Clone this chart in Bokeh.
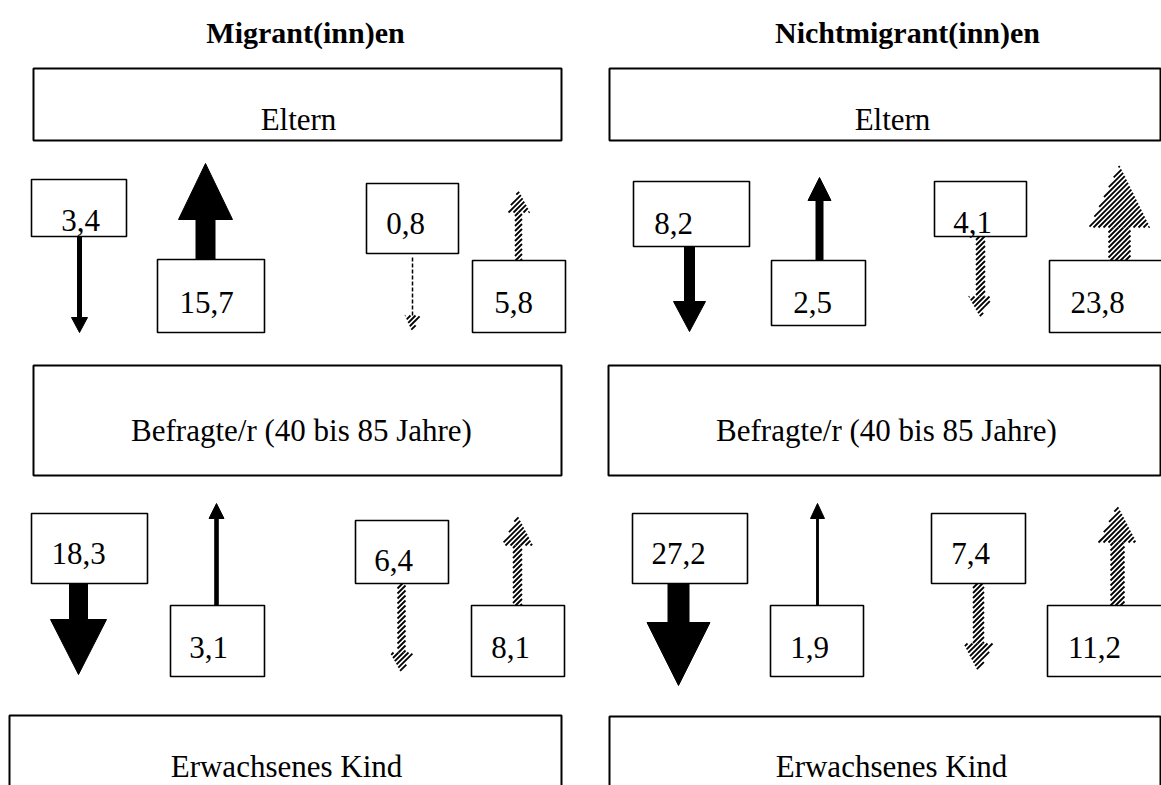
from bokeh.plotting import figure
from bokeh.models import ColumnDataSource, Range1d
from bokeh.core.properties import value
from bokeh.embed import file_html
from bokeh.resources import INLINE

# ---------------- data ----------------
groups = ["Migrant(inn)en", "Nichtmigrant(inn)en"]
nodes = ["Eltern", "Befragte/r (40 bis 85 Jahre)", "Erwachsenes Kind"]

# percentages, order: [Migrant(inn)en, Nichtmigrant(inn)en]
parents_to_resp_solid = [3.4, 8.2]
resp_to_parents_solid = [15.7, 2.5]
parents_to_resp_hatched = [0.8, 4.1]
resp_to_parents_hatched = [5.8, 23.8]
resp_to_child_solid = [18.3, 27.2]
child_to_resp_solid = [3.1, 1.9]
resp_to_child_hatched = [6.4, 7.4]
child_to_resp_hatched = [8.1, 11.2]

flows = [
    ("p2r_s", parents_to_resp_solid, "solid"),
    ("r2p_s", resp_to_parents_solid, "solid"),
    ("p2r_h", parents_to_resp_hatched, "hatched"),
    ("r2p_h", resp_to_parents_hatched, "hatched"),
    ("r2c_s", resp_to_child_solid, "solid"),
    ("c2r_s", child_to_resp_solid, "solid"),
    ("r2c_h", resp_to_child_hatched, "hatched"),
    ("c2r_h", child_to_resp_hatched, "hatched"),
]

# ---------------- layout (pixel space) ----------------
# arrow: x, start, tip, shaft width, head width, head length
arrow_layout = {
    ("p2r_s", 0): (79, 236, 332, 4, 16, 15),
    ("r2p_s", 0): (205, 259, 163, 19, 54, 56),
    ("p2r_h", 0): (412, 257, 332, 0, 15, 17),
    ("r2p_h", 0): (518, 260, 190, 7, 23, 22),
    ("p2r_s", 1): (689, 246, 331, 10, 32, 30),
    ("r2p_s", 1): (819, 260, 177, 7, 23, 23),
    ("p2r_h", 1): (980, 236, 317, 9, 24, 21),
    ("r2p_h", 1): (1119, 260, 165, 22, 61, 62),
    ("r2c_s", 0): (78, 583, 674, 18, 56, 55),
    ("c2r_s", 0): (216, 605, 503, 3.5, 15, 15),
    ("r2c_h", 0): (401, 583, 673, 8, 23, 21),
    ("c2r_h", 0): (517, 605, 515, 9, 31, 30),
    ("r2c_s", 1): (678, 583, 685, 21, 63, 63),
    ("c2r_s", 1): (817, 605, 503, 1.8, 14, 15),
    ("r2c_h", 1): (978, 583, 672, 11, 30, 29),
    ("c2r_h", 1): (1117, 605, 505, 14, 38, 37),
}
# box: x0, x1, y0, y1 ; label: x, baseline
box_layout = {
    ("p2r_s", 0): (31, 126, 179, 236, 80, 220),
    ("r2p_s", 0): (157, 264, 259, 332, 206, 302),
    ("p2r_h", 0): (366, 458, 183, 253, 405, 223),
    ("r2p_h", 0): (472, 565, 260, 332, 513, 302),
    ("p2r_s", 1): (633, 749, 181, 246, 673, 223),
    ("r2p_s", 1): (771, 865, 260, 325, 812, 302),
    ("p2r_h", 1): (934, 1026, 181, 236, 972, 222),
    ("r2p_h", 1): (1049, 1180, 260, 332, 1097, 302),
    ("r2c_s", 0): (31, 147, 513, 583, 78, 553),
    ("c2r_s", 0): (170, 264, 605, 676, 208, 647),
    ("r2c_h", 0): (355, 448, 520, 583, 393, 560),
    ("c2r_h", 0): (471, 564, 605, 676, 510, 647),
    ("r2c_s", 1): (632, 747, 513, 583, 678, 553),
    ("c2r_s", 1): (770, 863, 605, 676, 809, 647),
    ("r2c_h", 1): (931, 1025, 513, 583, 970, 553),
    ("c2r_h", 1): (1047, 1180, 605, 676, 1094, 647),
}
node_boxes = [
    [(33, 561, 68, 140, 298, 119), (609, 1160, 68, 140, 892, 119)],
    [(33, 561, 365, 475, 301, 430), (608, 1160, 365, 475, 886, 430)],
    [(9, 561, 715, 810, 286, 766), (609, 1160, 716, 810, 891, 766)],
]
title_pos = [(305, 32), (907, 32)]
HATCH_STEP = 5.0
HATCH_W = 1.8

FONT = value("Liberation Serif")

p = figure(width=1161, height=785, output_backend="svg", toolbar_location=None,
           x_range=Range1d(0, 1161), y_range=Range1d(785, 0), min_border=0)
p.axis.visible = False
p.grid.visible = False
p.outline_line_color = None
p.background_fill_color = "white"
p.border_fill_color = "white"


def arrow_parts(x, y0, y1, sw, hw, hl):
    d = 1 if y1 > y0 else -1
    yb = y1 - d * hl
    s, h = sw / 2, hw / 2
    shaft = [(x - s, y0), (x + s, y0), (x + s, yb), (x - s, yb)] if sw > 0 else []
    head = [(x - h, yb), (x + h, yb), (x, y1)]
    return shaft, head


def poly_of(shaft, head):
    if shaft:
        (a, b, c, dd) = shaft
        return ([a[0], b[0], c[0], head[1][0], head[2][0], head[0][0], dd[0]],
                [a[1], b[1], c[1], head[1][1], head[2][1], head[0][1], dd[1]])
    return ([q[0] for q in head], [q[1] for q in head])


def hatch_convex(pts, out):
    if not pts:
        return
    sums = [px + py for px, py in pts]
    lo, hi = min(sums), max(sums)
    import math
    c = math.floor(lo / HATCH_STEP) * HATCH_STEP
    n = len(pts)
    while c <= hi:
        hits = []
        for i in range(n):
            x1, y1 = pts[i]
            x2, y2 = pts[(i + 1) % n]
            f1, f2 = x1 + y1 - c, x2 + y2 - c
            if f1 * f2 <= 0 and f1 != f2:
                t = f1 / (f1 - f2)
                hits.append((x1 + t * (x2 - x1), y1 + t * (y2 - y1)))
        if len(hits) >= 2:
            a = min(hits); b = max(hits)
            if b[0] - a[0] > 0.3:
                out["x0"].append(a[0]); out["y0"].append(a[1])
                out["x1"].append(b[0]); out["y1"].append(b[1])
        c += HATCH_STEP


solid = dict(xs=[], ys=[])
hatch = dict(x0=[], y0=[], x1=[], y1=[])
dashed = dict(x0=[], y0=[], x1=[], y1=[])
lab = dict(x=[], y=[], t=[])
bx = dict(l=[], r=[], t=[], b=[])

for key, vals, kind in flows:
    for g, v in enumerate(vals):
        x, y0, y1, sw, hw, hl = arrow_layout[(key, g)]
        shaft, head = arrow_parts(x, y0, y1, sw, hw, hl)
        if kind == "solid":
            xs, ys = poly_of(shaft, head)
            solid["xs"].append(xs); solid["ys"].append(ys)
        else:
            if sw == 0:
                d = 1 if y1 > y0 else -1
                dashed["x0"].append(x); dashed["y0"].append(y0)
                dashed["x1"].append(x); dashed["y1"].append(y1 - d * hl)
            hatch_convex(shaft, hatch)
            hatch_convex(head, hatch)
        l, r, t, b, tx, ty = box_layout[(key, g)]
        bx["l"].append(l); bx["r"].append(r); bx["t"].append(t); bx["b"].append(b)
        lab["x"].append(tx); lab["y"].append(ty)
        lab["t"].append(f"{v:.1f}".replace(".", ","))

p.patches("xs", "ys", source=ColumnDataSource(solid), fill_color="black",
          line_color="black", line_width=1)
p.segment("x0", "y0", "x1", "y1", source=ColumnDataSource(hatch),
          line_color="black", line_width=HATCH_W)
p.segment("x0", "y0", "x1", "y1", source=ColumnDataSource(dashed),
          line_color="black", line_width=1.5, line_dash="4 2")

p.quad(left="l", right="r", top="t", bottom="b", source=ColumnDataSource(bx),
       fill_color="white", line_color="black", line_width=1.6)
p.text("x", "y", text="t", source=ColumnDataSource(lab), text_font=FONT,
       text_font_size="31px", text_align="center", text_baseline="alphabetic",
       text_color="black")

nb = dict(l=[], r=[], t=[], b=[], x=[], y=[], txt=[])
for i, name in enumerate(nodes):
    for g in range(len(groups)):
        l, r, t, b, tx, ty = node_boxes[i][g]
        nb["l"].append(l); nb["r"].append(r); nb["t"].append(t); nb["b"].append(b)
        nb["x"].append(tx); nb["y"].append(ty); nb["txt"].append(name)
nsrc = ColumnDataSource(nb)
p.quad(left="l", right="r", top="t", bottom="b", source=nsrc,
       fill_color="white", line_color="black", line_width=2)
p.text("x", "y", text="txt", source=nsrc, text_font=FONT,
       text_font_size="31px", text_align="center", text_baseline="alphabetic",
       text_color="black")

ttl = ColumnDataSource(dict(x=[tp[0] for tp in title_pos], y=[tp[1] for tp in title_pos],
                            txt=groups))
p.text("x", "y", text="txt", source=ttl, text_font=FONT, text_font_size="30px",
       text_font_style="bold", text_align="center", text_baseline="alphabetic",
       text_color="black")

open("out.html", "w").write(file_html(p, INLINE))
